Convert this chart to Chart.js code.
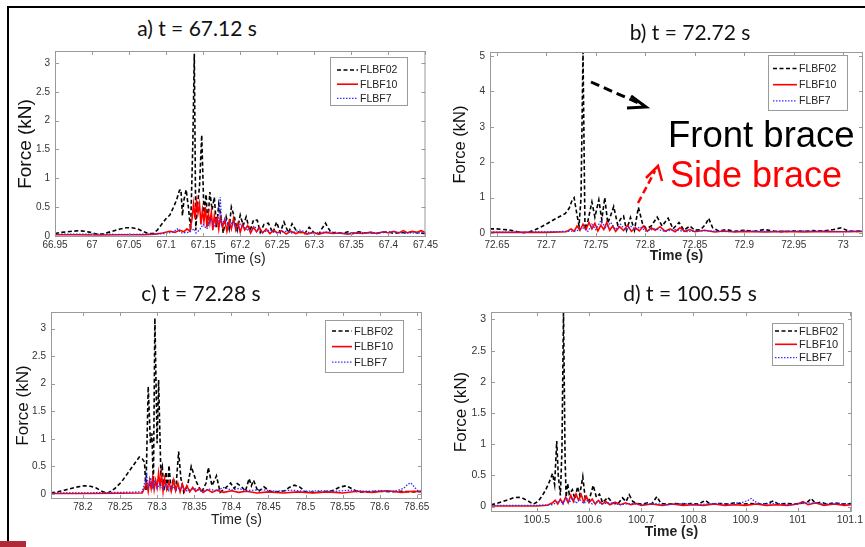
<!DOCTYPE html>
<html>
<head>
<meta charset="utf-8">
<script src="https://cdn.jsdelivr.net/npm/chart.js@4.4.1/dist/chart.umd.min.js"></script>
<style>
  body { margin: 0; background: #fff; width: 865px; height: 547px; overflow: hidden; position: relative; }
  .frame { position: absolute; left: 7px; top: 6px; width: 880px; height: 560px; border-top: 2px solid #000; border-left: 2px solid #000; }
  .redmark { position: absolute; left: 0; top: 541px; width: 26px; height: 6px; background: #b02a37; }
  .ptitle { position: absolute; font-family: Lato, "Open Sans", sans-serif; font-size: 21px; line-height: 1; color: #111; transform: translateX(-50%); white-space: nowrap; }
  .note { position: absolute; font-family: "Liberation Sans", Arial, sans-serif; font-size: 36px; line-height: 1; white-space: nowrap; }
  canvas { position: absolute; }
  svg { position: absolute; left: 0; top: 0; }
</style>
</head>
<body>
<div class="frame"></div>
<div class="redmark"></div>

<canvas id="chartA"></canvas>
<canvas id="chartB"></canvas>
<canvas id="chartC"></canvas>
<canvas id="chartD"></canvas>

<div class="ptitle" style="left:197px; top:17px;">a) t = 67.12 s</div>
<div class="ptitle" style="left:690px; top:21px;">b) t = 72.72 s</div>
<div class="ptitle" style="left:201px; top:282px;">c) t = 72.28 s</div>
<div class="ptitle" style="left:690px; top:282px;">d) t = 100.55 s</div>

<svg width="865" height="547">
  <line x1="591" y1="82" x2="643" y2="105" stroke="#000" stroke-width="3" stroke-dasharray="9,5"/>
  <polyline points="631,96 646,107 627,108" fill="none" stroke="#000" stroke-width="3"/>
  <line x1="638" y1="203" x2="655" y2="171" stroke="#f00" stroke-width="2.5" stroke-dasharray="7,4"/>
  <polyline points="646,178 658,166 662,181" fill="none" stroke="#f00" stroke-width="2.5"/>
</svg>
<div class="note" style="left:668px; top:117px; color:#000; font-size:36.5px;">Front brace</div>
<div class="note" style="left:670px; top:157px; color:#f00;">Side brace</div>

<script>
// ---- data: [time (s), force (kN)] ----
const seriesNames = ["FLBF02", "FLBF10", "FLBF7"];

const aFLBF02 = [[66.95,0.04],[66.958,0.06],[66.966,0.07],[66.974,0.08],[66.982,0.09],[66.99,0.08],[66.998,0.06],[67.006,0.03],[67.014,0.03],[67.022,0.06],[67.03,0.09],[67.038,0.12],[67.046,0.14],[67.054,0.14],[67.062,0.12],[67.07,0.07],[67.076,0.04],[67.082,0.04],[67.088,0.1],[67.094,0.2],[67.1,0.3],[67.105,0.36],[67.11,0.5],[67.114,0.62],[67.118,0.79],[67.12,0.8],[67.122,0.35],[67.124,0.62],[67.127,0.8],[67.13,0.5],[67.133,0.1],[67.136,1.6],[67.138,3.16],[67.14,0.1],[67.142,0.5],[67.145,0.85],[67.148,1.75],[67.151,0.4],[67.154,0.72],[67.156,0.15],[67.159,0.76],[67.162,0.45],[67.165,0.67],[67.168,0.15],[67.171,0.55],[67.174,0.33],[67.177,0.05],[67.181,0.33],[67.185,0.12],[67.188,0.5],[67.192,0.33],[67.196,0.1],[67.2,0.36],[67.204,0.18],[67.208,0.33],[67.213,0.08],[67.218,0.28],[67.223,0.27],[67.227,0.06],[67.232,0.2],[67.238,0.22],[67.244,0.05],[67.249,0.24],[67.254,0.06],[67.259,0.24],[67.265,0.05],[67.27,0.21],[67.276,0.08],[67.281,0.06],[67.287,0.04],[67.293,0.15],[67.3,0.05],[67.306,0.03],[67.31,0.12],[67.315,0.22],[67.318,0.15],[67.323,0.05],[67.33,0.06],[67.338,0.04],[67.345,0.07],[67.352,0.04],[67.36,0.07],[67.368,0.05],[67.376,0.06],[67.384,0.04],[67.392,0.06],[67.4,0.07],[67.408,0.04],[67.416,0.06],[67.424,0.05],[67.432,0.07],[67.44,0.05],[67.45,0.04]];
const aFLBF10 = [[66.95,0.02],[66.98,0.02],[67.01,0.015],[67.04,0.02],[67.07,0.02],[67.085,0.03],[67.095,0.05],[67.105,0.08],[67.112,0.06],[67.118,0.1],[67.124,0.07],[67.128,0.12],[67.132,0.08],[67.135,0.3],[67.137,0.55],[67.139,0.3],[67.141,0.6],[67.143,0.4],[67.145,0.55],[67.147,0.2],[67.149,0.45],[67.151,0.25],[67.153,0.5],[67.155,0.15],[67.157,0.38],[67.159,0.22],[67.161,0.42],[67.163,0.1],[67.165,0.35],[67.167,0.2],[67.169,0.3],[67.171,0.12],[67.173,0.32],[67.176,0.15],[67.179,0.28],[67.182,0.08],[67.185,0.25],[67.188,0.12],[67.191,0.3],[67.194,0.1],[67.197,0.22],[67.2,0.06],[67.203,0.2],[67.206,0.1],[67.21,0.18],[67.214,0.05],[67.218,0.15],[67.222,0.07],[67.226,0.14],[67.23,0.05],[67.235,0.12],[67.24,0.04],[67.245,0.1],[67.25,0.05],[67.256,0.09],[67.262,0.03],[67.268,0.08],[67.275,0.04],[67.282,0.07],[67.29,0.03],[67.298,0.06],[67.306,0.03],[67.315,0.06],[67.325,0.04],[67.335,0.05],[67.345,0.03],[67.355,0.05],[67.365,0.04],[67.375,0.06],[67.385,0.04],[67.393,0.07],[67.4,0.05],[67.407,0.08],[67.414,0.05],[67.42,0.09],[67.426,0.05],[67.432,0.08],[67.438,0.06],[67.444,0.09],[67.45,0.06]];
const aFLBF7 = [[66.95,0.03],[67.0,0.03],[67.05,0.025],[67.08,0.03],[67.1,0.04],[67.11,0.07],[67.115,0.12],[67.12,0.05],[67.13,0.06],[67.138,0.12],[67.14,0.05],[67.145,0.1],[67.15,0.2],[67.155,0.12],[67.16,0.3],[67.165,0.15],[67.17,0.25],[67.173,0.67],[67.175,0.2],[67.18,0.3],[67.185,0.15],[67.19,0.25],[67.195,0.1],[67.2,0.2],[67.21,0.1],[67.22,0.15],[67.23,0.06],[67.24,0.1],[67.25,0.05],[67.26,0.08],[67.27,0.05],[67.28,0.1],[67.29,0.06],[67.3,0.05],[67.32,0.07],[67.34,0.04],[67.36,0.06],[67.38,0.05],[67.4,0.07],[67.42,0.05],[67.45,0.05]];

const bFLBF02 = [[72.643,0.12],[72.65,0.12],[72.657,0.1],[72.664,0.08],[72.671,0.04],[72.677,0.01],[72.683,0.04],[72.689,0.1],[72.695,0.18],[72.701,0.27],[72.707,0.37],[72.713,0.46],[72.719,0.55],[72.723,0.7],[72.726,0.93],[72.728,1.0],[72.731,0.5],[72.733,0.2],[72.735,1.0],[72.737,5.12],[72.739,0.1],[72.742,0.35],[72.746,0.88],[72.749,0.45],[72.753,0.94],[72.756,0.37],[72.759,1.0],[72.762,0.28],[72.765,0.5],[72.768,0.75],[72.772,0.24],[72.775,0.4],[72.778,0.48],[72.781,0.08],[72.785,0.44],[72.789,0.08],[72.793,0.73],[72.797,0.28],[72.801,0.12],[72.806,0.2],[72.812,0.45],[72.817,0.2],[72.823,0.42],[72.828,0.12],[72.834,0.3],[72.839,0.08],[72.845,0.2],[72.85,0.08],[72.856,0.1],[72.861,0.25],[72.864,0.42],[72.868,0.15],[72.874,0.06],[72.882,0.1],[72.89,0.05],[72.9,0.08],[72.91,0.05],[72.92,0.1],[72.93,0.06],[72.94,0.04],[72.95,0.06],[72.96,0.05],[72.97,0.07],[72.98,0.06],[72.99,0.1],[72.998,0.15],[73.005,0.06],[73.013,0.05],[73.022,0.06]];
const bFLBF10 = [[72.643,0.02],[72.67,0.02],[72.7,0.02],[72.72,0.04],[72.725,0.12],[72.728,0.05],[72.731,0.2],[72.734,0.08],[72.737,0.25],[72.74,0.1],[72.743,0.3],[72.746,0.12],[72.749,0.28],[72.752,0.06],[72.755,0.22],[72.758,0.1],[72.761,0.3],[72.764,0.08],[72.767,0.2],[72.77,0.05],[72.774,0.18],[72.778,0.07],[72.782,0.22],[72.786,0.05],[72.79,0.15],[72.794,0.06],[72.798,0.2],[72.802,0.05],[72.806,0.15],[72.81,0.08],[72.815,0.18],[72.82,0.05],[72.825,0.12],[72.83,0.04],[72.835,0.15],[72.84,0.05],[72.845,0.1],[72.85,0.04],[72.86,0.08],[72.87,0.03],[72.88,0.06],[72.89,0.03],[72.9,0.05],[72.92,0.03],[72.94,0.05],[72.96,0.03],[72.98,0.05],[73.0,0.04],[73.022,0.05]];
const bFLBF7 = [[72.643,0.03],[72.68,0.03],[72.71,0.04],[72.73,0.06],[72.738,0.15],[72.742,0.05],[72.746,0.25],[72.75,0.1],[72.755,0.35],[72.76,0.15],[72.765,0.3],[72.77,0.1],[72.775,0.25],[72.78,0.08],[72.785,0.2],[72.79,0.1],[72.795,0.18],[72.8,0.06],[72.81,0.12],[72.82,0.05],[72.83,0.1],[72.84,0.04],[72.86,0.07],[72.88,0.04],[72.9,0.06],[72.93,0.04],[72.96,0.06],[72.99,0.04],[73.022,0.05]];

const cFLBF02 = [[78.157,0.02],[78.166,0.04],[78.175,0.07],[78.184,0.1],[78.193,0.13],[78.202,0.15],[78.21,0.14],[78.218,0.11],[78.227,0.04],[78.234,0.02],[78.243,0.1],[78.252,0.22],[78.26,0.37],[78.269,0.54],[78.276,0.67],[78.28,0.64],[78.283,0.58],[78.285,0.07],[78.288,1.95],[78.291,0.92],[78.293,1.1],[78.295,0.1],[78.297,3.19],[78.3,0.92],[78.302,2.07],[78.305,0.4],[78.307,0.5],[78.309,0.05],[78.312,0.4],[78.314,0.05],[78.316,0.52],[78.319,0.05],[78.322,0.29],[78.325,0.05],[78.329,0.77],[78.332,0.29],[78.336,0.03],[78.341,0.15],[78.346,0.5],[78.353,0.22],[78.36,0.03],[78.366,0.2],[78.369,0.48],[78.374,0.15],[78.38,0.33],[78.385,0.03],[78.393,0.12],[78.399,0.2],[78.404,0.1],[78.408,0.19],[78.414,0.13],[78.419,0.05],[78.424,0.28],[78.427,0.15],[78.43,0.25],[78.436,0.04],[78.444,0.13],[78.452,0.05],[78.462,0.04],[78.472,0.06],[78.478,0.12],[78.485,0.16],[78.492,0.13],[78.5,0.04],[78.512,0.03],[78.524,0.04],[78.536,0.06],[78.547,0.13],[78.555,0.15],[78.562,0.1],[78.57,0.04],[78.585,0.04],[78.6,0.05],[78.615,0.04],[78.63,0.05],[78.645,0.04],[78.657,0.05]];
const cFLBF10 = [[78.157,0.01],[78.2,0.01],[78.25,0.015],[78.28,0.02],[78.286,0.2],[78.288,0.05],[78.29,0.25],[78.292,0.1],[78.294,0.3],[78.296,0.08],[78.298,0.25],[78.3,0.12],[78.302,0.38],[78.304,0.15],[78.306,0.35],[78.308,0.05],[78.31,0.28],[78.313,0.08],[78.316,0.22],[78.319,0.05],[78.322,0.25],[78.325,0.06],[78.328,0.2],[78.331,0.04],[78.334,0.18],[78.337,0.05],[78.34,0.15],[78.344,0.04],[78.348,0.12],[78.352,0.05],[78.357,0.1],[78.362,0.03],[78.368,0.08],[78.374,0.03],[78.38,0.07],[78.39,0.03],[78.4,0.06],[78.41,0.03],[78.42,0.05],[78.435,0.02],[78.45,0.04],[78.47,0.02],[78.49,0.04],[78.51,0.02],[78.53,0.04],[78.55,0.02],[78.57,0.05],[78.59,0.03],[78.61,0.06],[78.63,0.03],[78.645,0.05],[78.657,0.04]];
const cFLBF7 = [[78.157,0.02],[78.2,0.02],[78.25,0.03],[78.28,0.04],[78.286,0.35],[78.288,0.1],[78.291,0.3],[78.294,0.12],[78.297,0.25],[78.3,0.1],[78.304,0.2],[78.308,0.08],[78.312,0.18],[78.316,0.06],[78.32,0.15],[78.326,0.08],[78.332,0.12],[78.34,0.06],[78.35,0.1],[78.36,0.05],[78.37,0.09],[78.38,0.06],[78.39,0.12],[78.4,0.07],[78.41,0.1],[78.42,0.06],[78.44,0.08],[78.46,0.05],[78.48,0.07],[78.5,0.05],[78.52,0.06],[78.54,0.05],[78.56,0.07],[78.58,0.05],[78.6,0.06],[78.62,0.05],[78.632,0.1],[78.638,0.18],[78.642,0.2],[78.647,0.12],[78.652,0.05],[78.657,0.05]];

const dFLBF02 = [[100.412,0.03],[100.423,0.05],[100.434,0.08],[100.445,0.11],[100.455,0.14],[100.465,0.15],[100.474,0.13],[100.483,0.09],[100.493,0.04],[100.502,0.08],[100.51,0.17],[100.517,0.27],[100.524,0.4],[100.53,0.53],[100.534,0.35],[100.538,1.05],[100.541,0.5],[100.545,0.18],[100.548,0.9],[100.551,3.15],[100.554,0.8],[100.556,0.15],[100.559,0.37],[100.562,0.2],[100.568,0.27],[100.573,0.12],[100.578,0.32],[100.582,0.18],[100.588,0.48],[100.593,0.1],[100.6,0.1],[100.608,0.34],[100.614,0.15],[100.62,0.2],[100.626,0.06],[100.636,0.15],[100.645,0.06],[100.655,0.04],[100.664,0.14],[100.671,0.08],[100.677,0.19],[100.684,0.08],[100.692,0.05],[100.702,0.04],[100.712,0.06],[100.72,0.04],[100.73,0.16],[100.738,0.05],[100.75,0.04],[100.765,0.05],[100.78,0.04],[100.795,0.05],[100.81,0.04],[100.823,0.1],[100.832,0.04],[100.85,0.05],[100.865,0.04],[100.88,0.06],[100.895,0.04],[100.91,0.05],[100.925,0.04],[100.94,0.05],[100.954,0.09],[100.963,0.04],[100.98,0.05],[100.995,0.04],[101.01,0.06],[101.02,0.08],[101.026,0.13],[101.034,0.05],[101.045,0.07],[101.055,0.04],[101.07,0.06],[101.085,0.04],[101.104,0.05]];
const dFLBF10 = [[100.412,0.01],[100.46,0.01],[100.5,0.01],[100.52,0.02],[100.53,0.06],[100.535,0.1],[100.54,0.04],[100.545,0.12],[100.55,0.05],[100.555,0.15],[100.56,0.06],[100.565,0.18],[100.57,0.08],[100.575,0.2],[100.58,0.1],[100.585,0.19],[100.59,0.07],[100.595,0.16],[100.6,0.06],[100.606,0.12],[100.612,0.04],[100.618,0.1],[100.625,0.04],[100.632,0.08],[100.64,0.03],[100.65,0.07],[100.66,0.03],[100.67,0.06],[100.68,0.03],[100.69,0.05],[100.7,0.02],[100.72,0.04],[100.74,0.02],[100.76,0.04],[100.78,0.02],[100.8,0.03],[100.82,0.02],[100.84,0.04],[100.86,0.02],[100.88,0.03],[100.9,0.02],[100.92,0.04],[100.94,0.02],[100.96,0.03],[100.98,0.02],[101.0,0.04],[101.01,0.08],[101.02,0.03],[101.035,0.06],[101.05,0.02],[101.07,0.04],[101.09,0.02],[101.104,0.03]];
const dFLBF7 = [[100.412,0.02],[100.46,0.02],[100.5,0.02],[100.53,0.03],[100.545,0.1],[100.55,0.04],[100.556,0.15],[100.562,0.06],[100.568,0.14],[100.575,0.05],[100.582,0.12],[100.59,0.05],[100.598,0.1],[100.606,0.04],[100.615,0.08],[100.625,0.04],[100.64,0.06],[100.66,0.03],[100.68,0.05],[100.7,0.03],[100.72,0.05],[100.75,0.03],[100.78,0.05],[100.81,0.03],[100.84,0.05],[100.87,0.04],[100.895,0.07],[100.905,0.1],[100.911,0.13],[100.918,0.08],[100.93,0.04],[100.96,0.05],[100.99,0.03],[101.02,0.06],[101.05,0.04],[101.08,0.05],[101.104,0.04]];

// tick labels
const aXTicks = [66.95, 67, 67.05, 67.1, 67.15, 67.2, 67.25, 67.3, 67.35, 67.4, 67.45];
const bXTicks = [72.65, 72.7, 72.75, 72.8, 72.85, 72.9, 72.95, 73];
const cXTicks = [78.2, 78.25, 78.3, 78.35, 78.4, 78.45, 78.5, 78.55, 78.6, 78.65];
const dXTicks = [100.5, 100.6, 100.7, 100.8, 100.9, 101, 101.1];
const halfKnTicks = [0, 0.5, 1, 1.5, 2, 2.5, 3];
const bYTicks = [0, 1, 2, 3, 4, 5];

// -----------------------------------------------------------------------

const seriesStyle = [
    { borderColor: "#000000", borderWidth: 1.6, borderDash: [4, 2.5], order: 3 },
    { borderColor: "#ff0000", borderWidth: 1.6, borderDash: [], order: 2 },
    { borderColor: "#2f2fff", borderWidth: 1.3, borderDash: [1.5, 1.5], order: 1 },
];

const FONT = "'Liberation Sans', Arial, sans-serif";

// panel layout (page pixels)
const panels = [
    { id: "chartA", box: { x: 0, y: 40, w: 440, h: 235 }, plot: { left: 55, top: 50, right: 428, bottom: 237 },
      xRange: [66.95, 67.45], yRange: [-0.02, 3.207], xTicks: aXTicks, yTicks: halfKnTicks,
      series: [aFLBF02, aFLBF10, aFLBF7], tickSize: 10, yTitleSize: 19, yTitleCenter: 26, xTitleCenter: 259, xBold: false,
      legend: { x: 330, y: 57, w: 77, h: 48, row0: 70, gap: 14.2, s0: 337, s1: 358, tx: 360, size: 10.5 } },
    { id: "chartB", box: { x: 440, y: 40, w: 425, h: 235 }, plot: { left: 490, top: 52, right: 863, bottom: 237 },
      xRange: [72.643, 73.02], yRange: [-0.11, 5.11], xTicks: bXTicks, yTicks: bYTicks,
      series: [bFLBF02, bFLBF10, bFLBF7], tickSize: 10, yTitleSize: 16.5, yTitleCenter: 460, xTitleCenter: 256, xBold: true,
      legend: { x: 768, y: 55, w: 79, h: 55, row0: 68.5, gap: 16.2, s0: 773, s1: 797, tx: 799, size: 10.5 } },
    { id: "chartC", box: { x: 0, y: 300, w: 440, h: 240 }, plot: { left: 51, top: 312, right: 422, bottom: 499 },
      xRange: [78.157, 78.657], yRange: [-0.09, 3.30], xTicks: cXTicks, yTicks: halfKnTicks,
      series: [cFLBF02, cFLBF10, cFLBF7], tickSize: 10, yTitleSize: 17, yTitleCenter: 23, xTitleCenter: 520, xBold: false,
      legend: { x: 325, y: 320, w: 78, h: 52, row0: 331, gap: 15.6, s0: 332, s1: 352, tx: 354, size: 11 } },
    { id: "chartD", box: { x: 440, y: 300, w: 425, h: 247 }, plot: { left: 491, top: 312, right: 860, bottom: 512 },
      xRange: [100.412, 101.104], yRange: [-0.087, 3.12], xTicks: dXTicks, yTicks: halfKnTicks,
      series: [dFLBF02, dFLBF10, dFLBF7], tickSize: 10.5, yTitleSize: 17, yTitleCenter: 461, xTitleCenter: 532, xBold: true,
      legend: { x: 772, y: 323, w: 71, h: 42, row0: 331, gap: 13.3, s0: 775, s1: 797, tx: 799, size: 11 } },
];

// grey axis box with MATLAB-style inward ticks
const axisBox = {
    id: "axisBox",
    afterDatasetsDraw(chart) {
        const { ctx, chartArea: a, scales } = chart;
        ctx.save();
        ctx.strokeStyle = "#9a9a9a";
        ctx.lineWidth = 1;
        ctx.strokeRect(a.left + 0.5, a.top + 0.5, a.right - a.left - 1, a.bottom - a.top - 1);
        ctx.beginPath();
        for (const t of scales.x.ticks) {
            const px = Math.round(scales.x.getPixelForValue(t.value)) + 0.5;
            ctx.moveTo(px, a.bottom); ctx.lineTo(px, a.bottom - 4);
            ctx.moveTo(px, a.top); ctx.lineTo(px, a.top + 4);
        }
        for (const t of scales.y.ticks) {
            const py = Math.round(scales.y.getPixelForValue(t.value)) + 0.5;
            ctx.moveTo(a.left, py); ctx.lineTo(a.left + 4, py);
            ctx.moveTo(a.right, py); ctx.lineTo(a.right - 4, py);
        }
        ctx.stroke();
        ctx.restore();
    }
};

function boxLegend(p) {
    const ox = p.box.x, oy = p.box.y, L = p.legend;
    return {
        id: "boxLegend",
        afterDraw(chart) {
            const ctx = chart.ctx;
            ctx.save();
            ctx.fillStyle = "#fff";
            ctx.strokeStyle = "#9a9a9a";
            ctx.lineWidth = 1;
            ctx.fillRect(L.x - ox, L.y - oy, L.w, L.h);
            ctx.strokeRect(L.x - ox + 0.5, L.y - oy + 0.5, L.w, L.h);
            ctx.font = `${L.size}px ${FONT}`;
            ctx.textBaseline = "middle";
            chart.data.datasets.forEach((ds, i) => {
                const y = L.row0 - oy + i * L.gap;
                ctx.beginPath();
                ctx.setLineDash(ds.borderDash);
                ctx.strokeStyle = ds.borderColor;
                ctx.lineWidth = ds.borderWidth;
                ctx.moveTo(L.s0 - ox, y);
                ctx.lineTo(L.s1 - ox, y);
                ctx.stroke();
                ctx.setLineDash([]);
                ctx.fillStyle = "#222";
                ctx.fillText(ds.label, L.tx - ox, y + 0.5);
            });
            ctx.restore();
        }
    };
}

function makePanel(p) {
    const $canvas = document.getElementById(p.id);
    $canvas.width = p.box.w;
    $canvas.height = p.box.h;
    $canvas.style.left = p.box.x + "px";
    $canvas.style.top = p.box.y + "px";

    const yAxisWidth = p.plot.left - p.box.x;
    const xAxisHeight = p.box.y + p.box.h - p.plot.bottom;
    const yTitleLine = p.yTitleSize * 1.2;
    const xTitleLine = 14 * 1.2;

    return new Chart($canvas.getContext("2d"), {
        type: "line",
        data: {
            datasets: p.series.map((pts, i) => ({
                label: seriesNames[i],
                data: pts.map(([x, y]) => ({ x, y })),
                ...seriesStyle[i],
                pointRadius: 0,
                tension: 0,
                fill: false,
            })),
        },
        options: {
            responsive: false,
            animation: false,
            devicePixelRatio: 1,
            layout: { padding: { left: 0, bottom: 0, top: p.plot.top - p.box.y, right: p.box.x + p.box.w - p.plot.right } },
            plugins: { legend: { display: false }, tooltip: { enabled: false } },
            scales: {
                x: {
                    type: "linear",
                    min: p.xRange[0],
                    max: p.xRange[1],
                    grid: { display: false, drawTicks: false },
                    border: { display: false },
                    afterBuildTicks: (s) => { s.ticks = p.xTicks.map(v => ({ value: v })); },
                    afterFit: (s) => { s.height = xAxisHeight; },
                    ticks: { autoSkip: false, maxRotation: 0, padding: 2, color: "#333",
                             font: { family: FONT, size: p.tickSize }, callback: (v) => String(v) },
                    title: { display: true, text: "Time (s)", color: "#222",
                             font: { family: FONT, size: 14, weight: p.xBold ? "bold" : "normal" },
                             padding: { top: 0, bottom: (p.box.y + p.box.h - p.xTitleCenter) - xTitleLine / 2 } },
                },
                y: {
                    min: p.yRange[0],
                    max: p.yRange[1],
                    grid: { display: false, drawTicks: false },
                    border: { display: false },
                    afterBuildTicks: (s) => { s.ticks = p.yTicks.map(v => ({ value: v })); },
                    afterFit: (s) => { s.width = yAxisWidth; },
                    ticks: { padding: 5, color: "#333", font: { family: FONT, size: p.tickSize }, callback: (v) => String(v) },
                    title: { display: true, text: "Force (kN)", color: "#111",
                             font: { family: FONT, size: p.yTitleSize },
                             padding: { top: (p.yTitleCenter - p.box.x) - yTitleLine / 2, bottom: 0 } },
                },
            },
        },
        plugins: [axisBox, boxLegend(p)],
    });
}

panels.forEach(makePanel);
</script>
</body>
</html>
